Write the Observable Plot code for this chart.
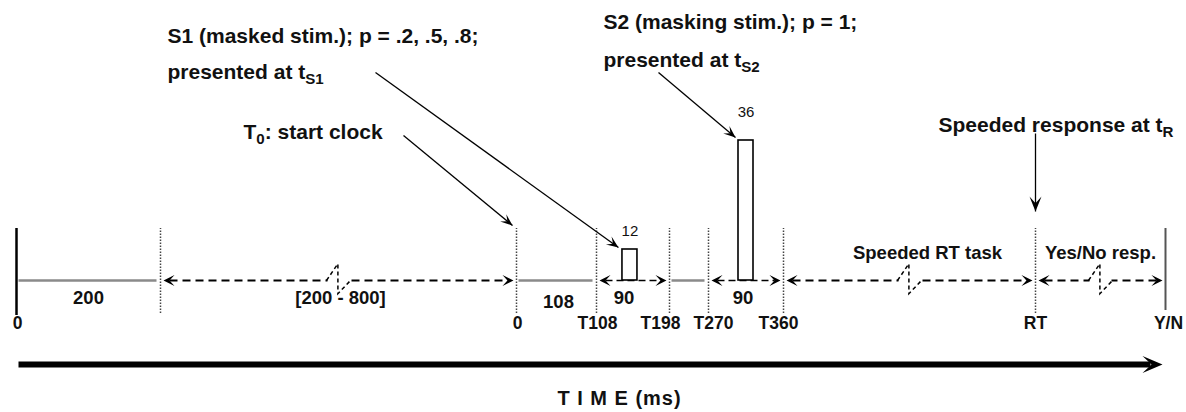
<!DOCTYPE html>
<html>
<head>
<meta charset="utf-8">
<script src="https://cdn.jsdelivr.net/npm/d3@7"></script>
<script src="https://cdn.jsdelivr.net/npm/@observablehq/plot@0.6"></script>
<style>
  html, body { margin: 0; padding: 0; background: #fff; }
  #chart svg { display: block; }
</style>
</head>
<body>
<div id="chart"></div>
<script>
// ---------------- DATA ----------------
// timeline events (schematic clock time in ms, T0 = 0)
const eventKeys   = ["start", "fixEnd", "T0", "T108", "T198", "T270", "T360", "RT", "YN"];
const eventTimes  = [-1000, -800, 0, 108, 198, 270, 360, 800, 1400];
const eventLabels = ["0", "", "0", "T108", "T198", "T270", "T360", "RT", "Y/N"];
const eventKinds  = ["solid", "dotted", "dotted", "dotted", "dotted", "dotted", "dotted", "dotted", "end"];

// timeline segments between events
const segmentFrom   = ["start", "fixEnd", "T0", "T108", "T198", "T270", "T360", "RT"];
const segmentTo     = ["fixEnd", "T0", "T108", "T198", "T270", "T360", "RT", "YN"];
const segmentLabels = ["200", "[200 - 800]", "108", "90", "", "90", "Speeded RT task", "Yes/No resp."];
const segmentKinds  = ["fixed", "variable", "fixed", "window", "fixed", "window", "task", "task"];

// stimuli (onset in schematic ms, duration label in ms, schematic bar height)
const stimNames     = ["S1", "S2"];
const stimOnsets    = [140, 306];
const stimDurations = [12, 36];
const stimHeights   = [31, 140];

// annotation texts
const noteTexts = [
  "S1 (masked stim.); p = .2, .5, .8;",
  "presented at t_{S1}",
  "T_{0}: start clock",
  "S2 (masking stim.); p = 1;",
  "presented at t_{S2}",
  "Speeded response at t_{R}"
];
const axisTitle = "T I M E (ms)";

// ---------------- LAYOUT (pixels) ----------------
const W = 1186, H = 412;
const layout = {
  eventPx: [16, 160, 516, 596, 669, 708, 783, 1035, 1165],
  baselinePy: 280,
  eventTopPy: 228, eventBottomPy: 313,
  tickPy: 323,
  tickDx: [1, 0, 1, 1, -9, 5, -5, 0, 3],
  segLabelPy: [298, 298, 302, 298, 298, 298, 253, 253],
  segLabelDx: [0, 2, 2, -9, 0, -3, 18, 0],
  boxWidthPx: 15,
  stimLabelGap: [18, 28],
  axisPy: 364, axisX1: 18, axisTip: 1162,
  titlePx: 619, titlePy: 398,
  notes: [[167, 36], [167, 72], [243, 132], [603, 22], [603, 60], [938, 125]],
  // arrow tails (px) ; heads derived from targets
  arrowTails: [[375, 72], [403, 135], [658, 72], [1035, 133]]
};

// ---------------- SCALES ----------------
const xOpts = {type: "linear", domain: eventTimes, range: layout.eventPx};
const yOpts = {type: "linear", domain: [-(H - layout.baselinePy), layout.baselinePy], range: [H, 0]};
const X = Plot.scale({x: xOpts});
const Y = Plot.scale({y: yOpts});
const xAt = (p) => X.invert(p);
const yAt = (p) => Y.invert(p);
const pxOf = (t) => X.apply(t);

// ---------------- DERIVED TABLES ----------------
const events = eventKeys.map((k, i) => ({key: k, t: eventTimes[i], label: eventLabels[i], kind: eventKinds[i], dx: layout.tickDx[i]}));
const T = Object.fromEntries(events.map(e => [e.key, e.t]));
const segments = segmentFrom.map((f, i) => ({
  from: T[f], to: T[segmentTo[i]], label: segmentLabels[i], kind: segmentKinds[i],
  labelPy: layout.segLabelPy[i], labelDx: layout.segLabelDx[i]
}));
const stims = stimNames.map((n, i) => ({name: n, onset: stimOnsets[i], dur: stimDurations[i], height: stimHeights[i], gap: layout.stimLabelGap[i]}));

const arrowSegs = segments.filter(s => s.kind !== "fixed");
const heads = [];
arrowSegs.forEach(s => {
  heads.push({x: xAt(pxOf(s.from) + 3), rot: 180});
  heads.push({x: xAt(pxOf(s.to) - 3), rot: 0});
});
const breaks = segments.filter(s => s.kind === "variable" || s.kind === "task")
  .map(s => ({x: xAt((pxOf(s.from) + pxOf(s.to)) / 2)}));

// annotation arrows: tails from layout, heads at targets
const bPy = layout.baselinePy;
const s1 = stims[0], s2 = stims[1];
const targets = [
  [pxOf(s1.onset) - 4, bPy - s1.height - 2],
  [pxOf(T.T0) - 4, layout.eventTopPy - 3],
  [pxOf(s2.onset) - 3, bPy - s2.height - 3],
  [pxOf(T.RT), layout.eventTopPy - 17]
];
const notes = layout.arrowTails.map((tail, i) => {
  const [hx, hy] = targets[i];
  const ang = Math.atan2(hy - tail[1], hx - tail[0]) * 180 / Math.PI;
  return {x1: xAt(tail[0]), y1: yAt(tail[1]), x2: xAt(hx), y2: yAt(hy), rot: ang, big: i === 3};
});

// ---------------- SYMBOLS ----------------
const head = (wRatio) => ({
  draw(ctx, size) {
    const r = Math.sqrt(size / Math.PI), L = 2 * r, w = wRatio * r;
    ctx.moveTo(0, 0); ctx.lineTo(-L, -w); ctx.lineTo(-0.55 * L, 0); ctx.lineTo(-L, w); ctx.closePath();
  }
});
const breakGlyph = {
  draw(ctx, size) {
    const r = Math.sqrt(size / Math.PI);
    ctx.moveTo(-r, 0); ctx.lineTo(-0.05 * r, -1.4 * r); ctx.lineTo(-0.05 * r, 1.1 * r); ctx.lineTo(r, 0);
  }
};
const maskRect = {draw(ctx, size) { const r = Math.sqrt(size / Math.PI); ctx.rect(-r, -3, 2 * r, 6); }};

const font = "'Liberation Sans', Arial, Helvetica, sans-serif";
const ink = "#111";

// ---------------- PLOT ----------------
const svg = Plot.plot({
  width: W, height: H, margin: 0,
  x: {...xOpts, axis: null},
  y: {...yOpts, axis: null},
  style: {fontFamily: font, background: "white", color: ink},
  marks: [
    // event lines
    Plot.ruleX(events.filter(e => e.kind === "dotted"), {x: "t", y1: yAt(layout.eventBottomPy), y2: yAt(layout.eventTopPy), stroke: "#444", strokeWidth: 1.5, strokeDasharray: "1.5,1.5"}),
    Plot.ruleX(events.filter(e => e.kind === "solid"), {x: "t", y1: yAt(layout.eventBottomPy + 2), y2: yAt(layout.eventTopPy), stroke: "#000", strokeWidth: 2.5}),
    Plot.ruleX(events.filter(e => e.kind === "end"), {x: "t", y1: yAt(layout.eventBottomPy - 3), y2: yAt(layout.eventTopPy), stroke: "#555", strokeWidth: 2}),
    // fixed (solid gray) segments
    Plot.link(segments.filter(s => s.kind === "fixed"), {x1: d => xAt(pxOf(d.from) + 2), x2: d => xAt(pxOf(d.to) - 4), y1: 0, y2: 0, stroke: "#8a8a8a", strokeWidth: 2.5}),
    // dashed arrow segments
    Plot.link(arrowSegs.filter(s => s.kind !== "window"), {x1: d => xAt(pxOf(d.from) + 9), x2: d => xAt(pxOf(d.to) - 9), y1: 0, y2: 0, stroke: "#000", strokeWidth: 2, strokeDasharray: "8,5"}),
    Plot.link(arrowSegs.filter(s => s.kind === "window"), {x1: d => xAt(pxOf(d.from) + 9), x2: d => xAt(pxOf(d.to) - 9), y1: 0, y2: 0, stroke: "#000", strokeWidth: 1.5, strokeDasharray: "7,4"}),
    Plot.dot(heads, {x: "x", y: 0, rotate: "rot", symbol: head(1.0), r: 5.5, fill: "#000", stroke: "none"}),
    // break marks
    Plot.dot(breaks, {x: "x", y: 0, symbol: maskRect, r: 11, fill: "white", stroke: "none"}),
    Plot.dot(breaks, {x: "x", y: 0, symbol: breakGlyph, r: 12, fill: "none", stroke: "#000", strokeWidth: 1.5, strokeDasharray: "4,3"}),
    // stimuli boxes
    Plot.rect(stims, {x1: "onset", x2: d => xAt(pxOf(d.onset) + layout.boxWidthPx), y1: 0, y2: "height", fill: "white", stroke: "#000", strokeWidth: 1.6}),
    Plot.text(stims, {x: d => xAt(pxOf(d.onset) + layout.boxWidthPx / 2), y: d => d.height + d.gap, text: d => String(d.dur), fontSize: 15, fill: ink}),
    // segment labels
    Plot.text(segments.filter(s => s.label), {x: d => xAt((pxOf(d.from) + pxOf(d.to)) / 2 + d.labelDx), y: d => yAt(d.labelPy), text: "label", fontSize: 18.5, fontWeight: "bold", fill: ink}),
    // tick labels
    Plot.text(events.filter(e => e.label), {x: d => xAt(pxOf(d.t) + d.dx), y: yAt(layout.tickPy), text: "label", fontSize: 17.5, fontWeight: "bold", fill: ink}),
    // annotations
    Plot.text(noteTexts, {x: (d, i) => xAt(layout.notes[i][0]), y: (d, i) => yAt(layout.notes[i][1]), text: d => d, textAnchor: "start", fontSize: 21, fontWeight: "bold", fill: ink}),
    Plot.link(notes, {x1: "x1", y1: "y1", x2: "x2", y2: "y2", stroke: "#000", strokeWidth: 1.3}),
    Plot.dot(notes.filter(d => !d.big), {x: "x2", y: "y2", rotate: "rot", symbol: head(0.8), r: 6, fill: "#000", stroke: "none"}),
    Plot.dot(notes.filter(d => d.big), {x: "x2", y: "y2", rotate: "rot", symbol: head(0.8), r: 7.5, fill: "#000", stroke: "none"}),
    // time axis arrow
    Plot.link([0], {x1: xAt(layout.axisX1), x2: xAt(layout.axisTip - 12), y1: yAt(layout.axisPy), y2: yAt(layout.axisPy), stroke: "#000", strokeWidth: 6}),
    Plot.dot([0], {x: xAt(layout.axisTip), y: yAt(layout.axisPy), symbol: head(0.85), r: 10, fill: "#000", stroke: "none"}),
    Plot.text([axisTitle], {x: xAt(layout.titlePx), y: yAt(layout.titlePy), text: d => d, fontSize: 20, fontWeight: "bold", fill: ink})
  ]
});

// subscripts: "_{..}" -> real tspans
d3.select(svg).selectAll("text").each(function () {
  const s = this.textContent;
  if (!s.includes("_{")) return;
  const parts = s.split(/_\{([^}]*)\}/);
  while (this.firstChild) this.removeChild(this.firstChild);
  let shifted = false;
  parts.forEach((p, i) => {
    if (!p) return;
    const ts = document.createElementNS("http://www.w3.org/2000/svg", "tspan");
    ts.textContent = p;
    if (i % 2 === 1) { ts.setAttribute("font-size", "0.72em"); ts.setAttribute("dy", "5"); shifted = true; }
    else if (shifted) { ts.setAttribute("dy", "-5"); shifted = false; }
    this.appendChild(ts);
  });
});
svg.querySelectorAll("text").forEach(t => t.setAttribute("letter-spacing", t.textContent === axisTitle ? "1" : "0"));

document.getElementById("chart").appendChild(svg);
</script>
</body>
</html>
